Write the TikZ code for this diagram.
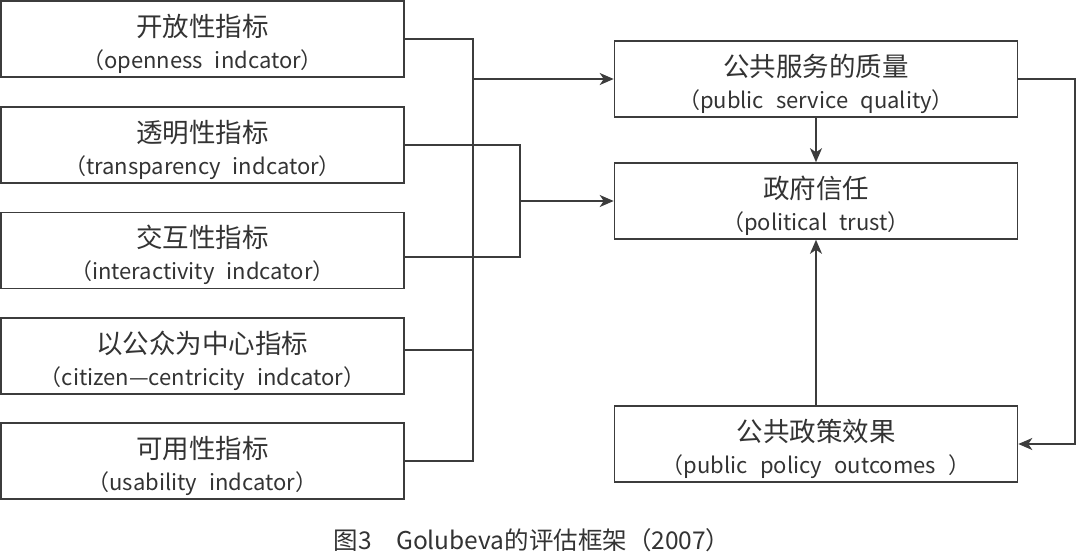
\documentclass[tikz,border=0pt]{standalone}
\usepackage{fontspec}
\newfontfamily\cjk{Noto Sans CJK SC}
\usepackage{tikz}
\usetikzlibrary{arrows.meta}
\definecolor{ink}{HTML}{333333}
\definecolor{wire}{HTML}{3C3C3C}
\newcommand{\zh}{\fontsize{26.5}{32}\selectfont}
\newcommand{\en}{\fontsize{22}{32}\selectfont}
\newcommand{\gap}{\hspace{0.55em}}
\newcommand{\pair}[2]{\zh\rule{0pt}{32pt}#1\\[10pt]\en #2}

\begin{document}
\begin{tikzpicture}
  [x = 1pt, y = -1pt, font = \cjk, text = ink,
   box/.style = {draw = wire, line width = 1.6pt, minimum width = 403pt,
                 minimum height = 76pt, inner sep = 0pt, align = center},
   link/.style = {draw = wire, line width = 1.6pt},
   arrow/.style = {link, -{Stealth[length=14pt, width=12pt, inset=4pt]}}]
  \useasboundingbox (0,0) rectangle (1080,555);
  % indicators
  \node[box] (open)    at (202.5, 39)    {\pair{开放性指标}{（openness\gap indcator）}};
  \node[box] (transp)  at (202.5, 145)   {\pair{透明性指标}{（transparency\gap indcator）}};
  \node[box] (inter)   at (202.5, 250.5) {\pair{交互性指标}{（interactivity\gap indcator）}};
  \node[box] (citizen) at (202.5, 356)   {\pair{以公众为中心指标}{（citizen—centricity\gap indcator）}};
  \node[box] (usab)    at (202.5, 461)   {\pair{可用性指标}{（usability\gap indcator）}};
  % outcomes
  \node[box] (quality) at (816, 79)  {\pair{公共服务的质量}{（public\gap service\gap quality）}};
  \node[box] (trust)   at (816, 201) {\pair{政府信任}{（political\gap trust）}};
  \node[box] (outcome) at (816, 444) {\pair{公共政策效果}{（public\gap policy\gap outcomes\gap）}};
  \node (caption) at (532, 540) {\fontsize{24.5}{28}\selectfont 图3　Golubeva的评估框架（2007）};
  % buses
  \coordinate (busA) at (473, 0);
  \coordinate (busB) at (520, 0);
  \coordinate (busC) at (1075, 0);
  \draw[link] (open.east) -| (busA |- usab.east) -- (usab.east);
  \draw[link] ([yshift=6pt]citizen.east) -- ([yshift=6pt]citizen.east -| busA);
  \draw[link] (transp.east) -| ([yshift=-6.5pt]busB |- inter.east) -- ([yshift=-6.5pt]inter.east);
  \draw[arrow] (busA |- quality.west) -- (quality.west);
  \draw[arrow] (busB |- trust.west) -- (trust.west);
  \draw[arrow] (quality) -- (trust);
  \draw[arrow] (outcome) -- (trust);
  \draw[arrow] (quality.east) -| (busC |- outcome.east) -- (outcome.east);
\end{tikzpicture}
\end{document}
